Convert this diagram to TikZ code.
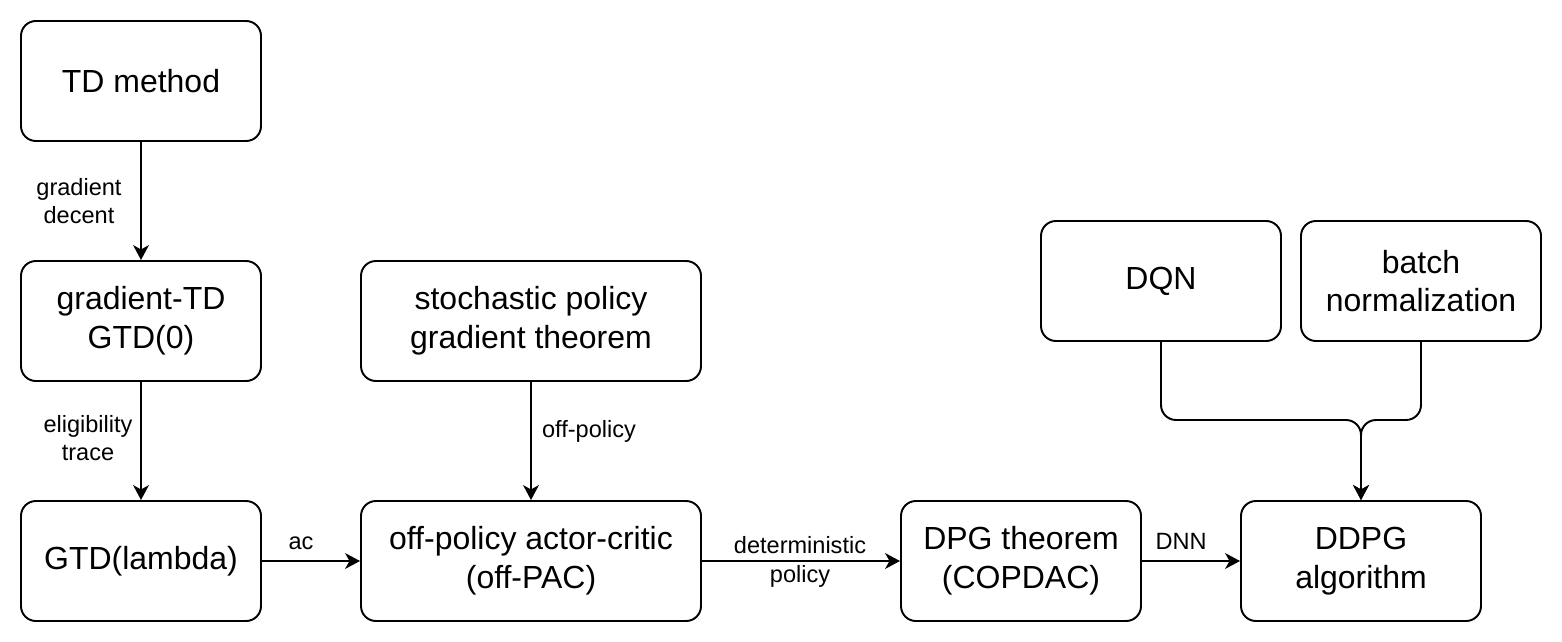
\documentclass[tikz,border=0pt]{standalone}
\usepackage{fontspec}
\setmainfont{Liberation Sans}
\usetikzlibrary{arrows.meta}
\begin{document}
\begin{tikzpicture}[x=0.02cm,y=-0.02cm,
  box/.style={draw=black,line width=1.1pt,rounded corners=8.5pt,fill=white,
    minimum height=120*0.02cm,align=center,inner sep=0pt,
    font=\fontsize{18.2pt}{22pt}\selectfont},
  wbox/.style={box,minimum width=240*0.02cm},
  xbox/.style={box,minimum width=340*0.02cm},
  conn/.style={draw=black,line width=1.1pt,-{Stealth[length=8.5pt,width=9pt,inset=2.5pt]}},
  lbl/.style={align=center,inner sep=1pt,font=\fontsize{13.4pt}{16.2pt}\selectfont}]
\useasboundingbox (0,0) rectangle (1562,642);
\node[wbox] (td) at (141,81) {TD method};
\node[wbox] (gtd) at (141,321) {gradient-TD\\GTD(0)};
\node[wbox] (gtdl) at (141,561) {GTD(lambda)};
\node[xbox] (spg) at (531,321) {stochastic policy\\gradient theorem};
\node[xbox] (opac) at (531,561) {off-policy actor-critic\\(off-PAC)};
\node[wbox] (dpg) at (1021,561) {DPG theorem\\(COPDAC)};
\node[wbox] (ddpg) at (1361,561) {DDPG\\algorithm};
\node[wbox] (dqn) at (1161,281) {DQN};
\node[wbox] (bn) at (1421,281) {batch\\normalization};

\draw[conn] (td) -- (gtd);
\draw[conn] (gtd) -- (gtdl);
\draw[conn] (spg) -- (opac);
\draw[conn] (gtdl) -- (opac);
\draw[conn] (opac) -- (dpg);
\draw[conn] (dpg) -- (ddpg);
\coordinate (m) at (1361,420);
\draw[conn,rounded corners=15*0.02cm] (dqn.south) |- (m) -- (ddpg.north);
\draw[conn,rounded corners=15*0.02cm] (bn.south) |- (m) -- (ddpg.north);

\node[lbl] (l1) at (79,201) {gradient\\decent};
\node[lbl] (l2) at (88,438) {eligibility\\trace};
\node[lbl] (l3) at (589,431) {off-policy};
\node[lbl] (l4) at (301,543) {ac};
\node[lbl] (l5) at (800,562) {deterministic\\policy};
\node[lbl] (l6) at (1181,541) {DNN};
\end{tikzpicture}
\end{document}
